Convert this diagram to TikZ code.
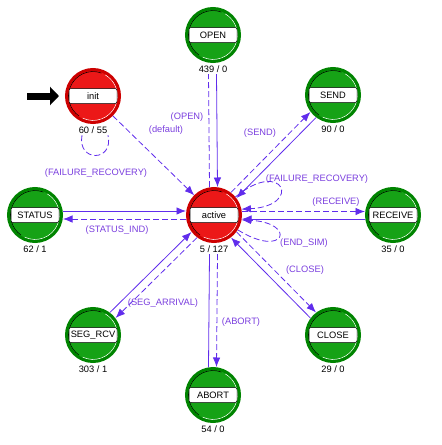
\documentclass[tikz,border=0pt]{standalone}
\usepackage{fontspec}
\setmainfont{Liberation Sans}
\usetikzlibrary{positioning,arrows.meta}
\definecolor{stategreen}{RGB}{22,162,22}
\definecolor{ringgreen}{RGB}{0,132,0}
\definecolor{statered}{RGB}{236,24,24}
\definecolor{ringred}{RGB}{205,0,0}
\definecolor{transblue}{RGB}{96,44,236}
\definecolor{translabel}{RGB}{122,62,222}
\newcommand\statefont{\fontsize{9.3}{11}\selectfont}
\tikzset{
    state/.style={
        circle,
        draw=ringgreen,
        fill=stategreen,
        line width=3pt,
        minimum size=53pt,
        inner sep=0pt,
        font=\statefont,
        path picture={
            \draw[black, line width=0.6pt] (path picture bounding box.center) ++(70:24.5pt)
                arc[start angle=70, end angle=235, radius=24.5pt];
            \draw[white, line width=0.6pt] (path picture bounding box.center) ++(-115:24.5pt)
                arc[start angle=-115, end angle=60, radius=24.5pt];
            \draw[black, fill=white, line width=0.5pt, rounded corners=2pt]
                ([shift={(-24pt,-7.5pt)}]path picture bounding box.center) rectangle
                ([shift={(24pt,7.5pt)}]path picture bounding box.center);
        }
    },
    redstate/.style={
        state,
        draw=ringred,
        fill=statered
    },
    cnt/.style={
        fill=white,
        inner sep=1pt,
        font=\statefont
    },
    trlabel/.style={
        text=translabel,
        inner sep=0pt,
        font=\statefont
    },
    solidtr/.style={transblue, line width=0.8pt},
    dashtr/.style={transblue, line width=0.8pt, dash pattern=on 6pt off 3pt},
    arr/.style={-{Latex[length=9.5pt,width=7.5pt]}}
}

\begin{document}
\begin{tikzpicture}[x=1pt,y=-1pt]

\useasboundingbox (0,0) rectangle (442,445);

% States
\node[redstate] (init) at (93,96) {init};
\node[state] (open) at (213,35) {OPEN};
\node[state] (send) at (333,95) {SEND};
\node[state] (status) at (35,215) {STATUS};
\node[redstate] (active) at (214,215) {active};
\node[state] (receive) at (393,215) {RECEIVE};
\node[state] (segrcv) at (93,335) {SEG\_RCV};
\node[state] (abort) at (213,395) {ABORT};
\node[state] (close) at (333,335) {CLOSE};

% Counters
\node[cnt, below=2pt of init] (initcnt) {60 / 55};
\node[cnt, below=2pt of open] (opencnt) {439 / 0};
\node[cnt, below=2pt of send] (sendcnt) {90 / 0};
\node[cnt, below=2pt of status] (statuscnt) {62 / 1};
\node[cnt, below=2pt of active] (activecnt) {5 / 127};
\node[cnt, below=2pt of receive] (receivecnt) {35 / 0};
\node[cnt, below=2pt of segrcv] (segrcvcnt) {303 / 1};
\node[cnt, below=2pt of abort] (abortcnt) {54 / 0};
\node[cnt, below=2pt of close] (closecnt) {29 / 0};

% Entry arrow
\coordinate (entry) at (27,96);
\draw[line width=7pt, -{Triangle[length=9pt,width=18pt]}] (entry) -- ([xshift=-6pt]init.west);

% Transitions
\draw[dashtr, arr] (init.south east) -- (active.north west);
\draw[dashtr] ([xshift=-4.5pt]active.north) -- ([xshift=-4.5pt]opencnt.south);
\draw[solidtr, arr] ([xshift=3.5pt]opencnt.south) -- ([xshift=3.5pt]active.north);
\draw[dashtr, arr] ([shift={(-2.8pt,2.8pt)}]active.north east) -- ([shift={(-2.8pt,2.8pt)}]send.south west);
\draw[solidtr, arr] ([shift={(2.8pt,-2.8pt)}]send.south west) -- ([shift={(2.8pt,-2.8pt)}]active.north east);
\draw[solidtr, arr] ([yshift=4pt]status.east) -- ([yshift=4pt]active.west);
\draw[dashtr, arr] ([yshift=-4pt]active.west) -- ([yshift=-4pt]status.east);
\draw[dashtr, arr] ([yshift=3.5pt]active.east) -- ([yshift=3.5pt]receive.west);
\draw[solidtr, arr] ([yshift=-4pt]receive.west) -- ([yshift=-4pt]active.east);
\draw[dashtr, arr] ([shift={(2.8pt,2.8pt)}]active.south east) -- ([shift={(2.8pt,2.8pt)}]close.north west);
\draw[solidtr, arr] ([shift={(-2.8pt,-2.8pt)}]close.north west) -- ([shift={(-2.8pt,-2.8pt)}]active.south east);
\draw[solidtr] ([xshift=-4.5pt]abort.north) -- ([xshift=-4.5pt]activecnt.south);
\draw[dashtr, arr] ([xshift=3.5pt]activecnt.south) -- ([xshift=3.5pt]abort.north);
\draw[solidtr, arr] ([shift={(-2.8pt,2.8pt)}]segrcv.north east) -- ([shift={(-2.8pt,2.8pt)}]active.south west);
\draw[dashtr, arr] ([shift={(2.8pt,-2.8pt)}]active.south west) -- ([shift={(2.8pt,-2.8pt)}]segrcv.north east);

% Self loops
\draw[dashtr] ([xshift=-11pt]initcnt.south) .. controls +(-5pt,-27pt) and +(6pt,-27pt) .. ([xshift=15pt]initcnt.south);
\draw[dashtr, arr] (active.40) .. controls +(40:62pt) and +(3:62pt) .. (active.12);
\draw[dashtr, arr] (active.-32) .. controls +(-32:56pt) and +(-3:56pt) .. (active.-10);

% Labels
\node[trlabel] (lopen) at (187,117) {(OPEN)};
\node[trlabel] (ldefault) at (166,130) {(default)};
\node[trlabel] (lsend) at (260,133) {(SEND)};
\node[trlabel] (linitfail) at (96,173) {(FAILURE\_RECOVERY)};
\node[trlabel] (lactfail) at (317,179) {(FAILURE\_RECOVERY)};
\node[trlabel] (lreceive) at (336,202) {(RECEIVE)};
\node[trlabel] (lstatus) at (117,230) {(STATUS\_IND)};
\node[trlabel] (lendsim) at (304,243) {(END\_SIM)};
\node[trlabel] (lclose) at (305,270) {(CLOSE)};
\node[trlabel] (lseg) at (163,303) {(SEG\_ARRIVAL)};
\node[trlabel] (labort) at (241,322) {(ABORT)};

\end{tikzpicture}
\end{document}
